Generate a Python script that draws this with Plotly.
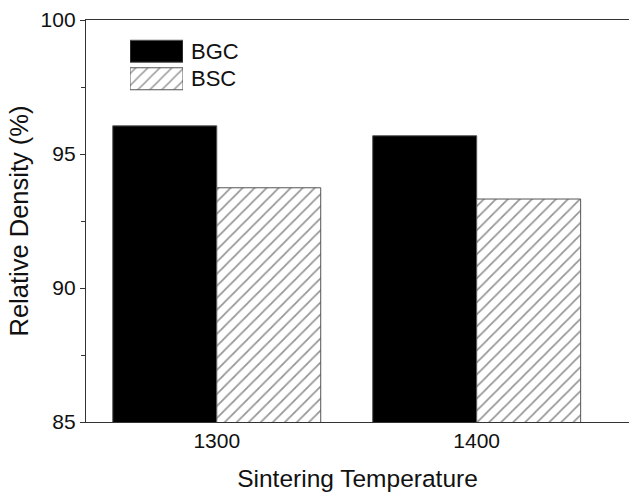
import plotly.graph_objects as go

categories = ["1300", "1400"]
bgc_values = [96.05, 95.68]
bsc_values = [93.74, 93.32]
legend_names = ["BSC", "BGC"]
y_ticks = [85, 90, 95, 100]

FONT = "Liberation Sans, Arial, sans-serif"
W, H = 629, 494
ML, MR, MT, MB = 86, 0, 20, 72
PW, PH = W - ML - MR, H - MT - MB

def px_x(x):
    return (x - ML) / PW

def px_y(y):
    return (H - MB - y) / PH

HATCH_SIZE = 8.5
HATCH_SOLID = 0.2
HATCH_COLOR = "#2a2a2a"
hatch = dict(shape="/", size=HATCH_SIZE, solidity=HATCH_SOLID, fgcolor=HATCH_COLOR, bgcolor="white")
black = dict(color="black", line=dict(color="#555555", width=1))
hatched = dict(color="white", pattern=hatch, line=dict(color="#555555", width=1))

fig = go.Figure()
fig.add_trace(go.Bar(x=categories, y=bgc_values, name="BGC", marker=black, showlegend=False))
fig.add_trace(go.Bar(x=categories, y=bsc_values, name="BSC", marker=hatched, showlegend=False))

# legend keys drawn as an inset bar subplot
fig.add_trace(go.Bar(y=legend_names, x=[1, 1], orientation="h", xaxis="x2", yaxis="y2",
                     marker=dict(color=["white", "black"], pattern=dict(shape=["/", ""], size=HATCH_SIZE,
                                 solidity=HATCH_SOLID, fgcolor=HATCH_COLOR, bgcolor="white"),
                                 line=dict(color="#555555", width=1)),
                     showlegend=False, hoverinfo="skip"))

fig.update_layout(
    width=W, height=H,
    margin=dict(l=ML, r=MR, t=MT, b=MB),
    paper_bgcolor="white", plot_bgcolor="white",
    font=dict(family=FONT, color="#111111"),
    barmode="group", bargap=0.2, bargroupgap=0,
    showlegend=False,
    xaxis=dict(
        type="category", range=[-0.503, 1.586],
        showline=True, linecolor="#333333", linewidth=1.3, mirror=True,
        ticks="", showgrid=False, zeroline=False,
        tickfont=dict(size=21, family=FONT),
        title=dict(text="Sintering Temperature", font=dict(size=24.5, family=FONT), standoff=18),
    ),
    yaxis=dict(
        range=[85, 100], tickvals=y_ticks,
        showline=True, linecolor="#333333", linewidth=1.3, mirror=False,
        ticks="outside", ticklen=5, tickcolor="#333333", tickwidth=1.2,
        minor=dict(dtick=2.5, ticks="outside", ticklen=4, tickcolor="#333333", tickwidth=1.2, showgrid=False),
        showgrid=False, zeroline=False,
        tickfont=dict(size=21, family=FONT),
        title=dict(text="Relative Density (%)", font=dict(size=25.5, family=FONT), standoff=4),
    ),
    xaxis2=dict(domain=[px_x(130), px_x(183)], anchor="y2", range=[0, 1],
                visible=False, fixedrange=True),
    yaxis2=dict(domain=[px_y(92.5), px_y(37.5)], anchor="x2", type="category",
                side="right", showline=False, ticks="", showgrid=False, zeroline=False,
                tickfont=dict(size=22, family=FONT, color="#111111"), ticklabelstandoff=7,
                categoryorder="array", categoryarray=legend_names),
)

fig.write_html("out.html")
